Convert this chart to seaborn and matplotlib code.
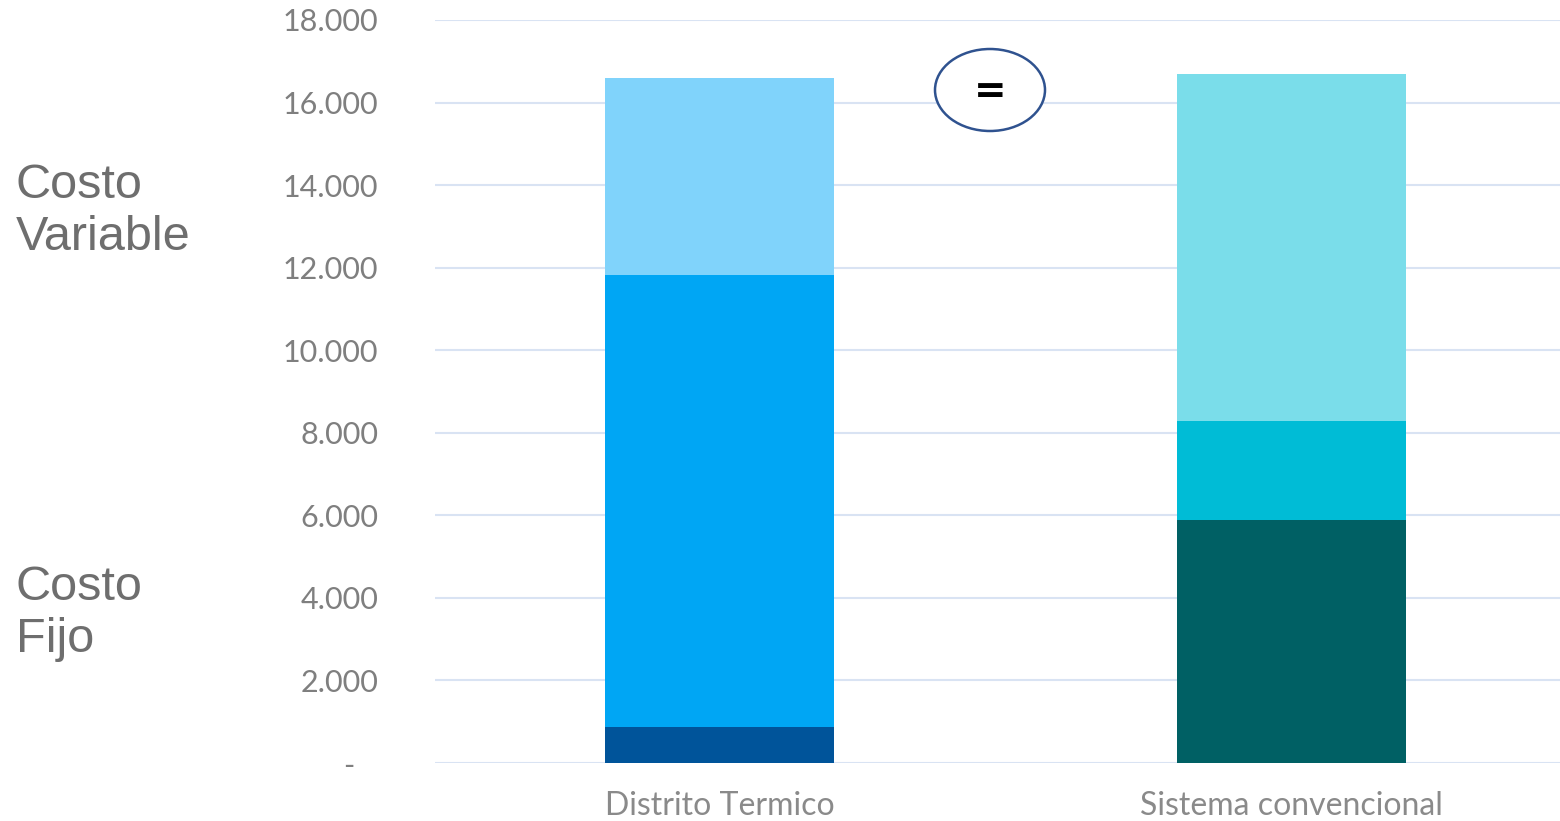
import matplotlib
matplotlib.use("Agg")
import matplotlib.pyplot as plt
import seaborn as sns
import numpy as np
import pandas as pd
from matplotlib.patches import Ellipse

categories = ["Distrito Termico", "Sistema convencional"]
costo_fijo = [870, 5890]          # bottom segment
costo_medio = [10950, 2400]       # middle segment
costo_variable = [4780, 8400]     # top segment
yticks = [0, 2000, 4000, 6000, 8000, 10000, 12000, 14000, 16000, 18000]
ytick_labels = ["-   ", "2.000", "4.000", "6.000", "8.000", "10.000", "12.000", "14.000", "16.000", "18.000"]

colors_bottom = ["#00549A", "#006064"]
colors_mid = ["#00A6F4", "#00BCD6"]
colors_top = ["#80D3FB", "#7ADDEA"]

sns.set_theme(style="white")
plt.rcParams['font.family'] = ['Lato', 'DejaVu Sans']

fig = plt.figure(figsize=(15.6, 8.21), dpi=100)
ax = fig.add_axes([435/1560, 1-763/821, 1-435/1560, (763-20)/821])

b = np.array(costo_fijo)
m = b + np.array(costo_medio)
t = m + np.array(costo_variable)

for vals, cols in [(t, colors_top), (m, colors_mid), (b, colors_bottom)]:
    df = pd.DataFrame({"cat": categories, "val": vals})
    sns.barplot(data=df, x="cat", y="val", hue="cat", palette=cols, legend=False,
                width=0.4, ax=ax, saturation=1, linewidth=0, zorder=3)

ax.set_ylim(0, 18000)
ax.set_xlim(-0.497, 1.469)
ax.set_yticks(yticks)
ax.set_yticklabels(ytick_labels, fontsize=22, color="#7F7F7F")
ax.yaxis.grid(True, color="#D9E3F3", linewidth=1.5, zorder=0)
ax.set_axisbelow(True)
ax.tick_params(axis="y", length=0, pad=41)
ax.tick_params(axis="x", length=0, pad=20, labelsize=23, labelcolor="#8A8A8A")
ax.set_xlabel("")
ax.set_ylabel("")
for s in ax.spines.values():
    s.set_visible(False)

fig.text(16/1560, 1-212/821, "Costo\nVariable", fontsize=35, color="#6E6E6E",
         family=["Liberation Sans", "DejaVu Sans"], va="center", ha="left", linespacing=1.2)
fig.text(16/1560, 1-613/821, "Costo\nFijo", fontsize=35, color="#6E6E6E",
         family=["Liberation Sans", "DejaVu Sans"], va="center", ha="left", linespacing=1.2)

ell = Ellipse((990/1560, 1-90/821), 110/1560, 82/821, transform=fig.transFigure,
              facecolor="white", edgecolor="#2F528F", linewidth=1.8, zorder=5)
fig.patches.append(ell)
fig.text(990/1560, 1-92/821, "=", fontsize=28, fontweight="bold", color="black",
         family=["DejaVu Sans"], ha="center", va="center", zorder=6)

fig.savefig("out.png", dpi=100)
